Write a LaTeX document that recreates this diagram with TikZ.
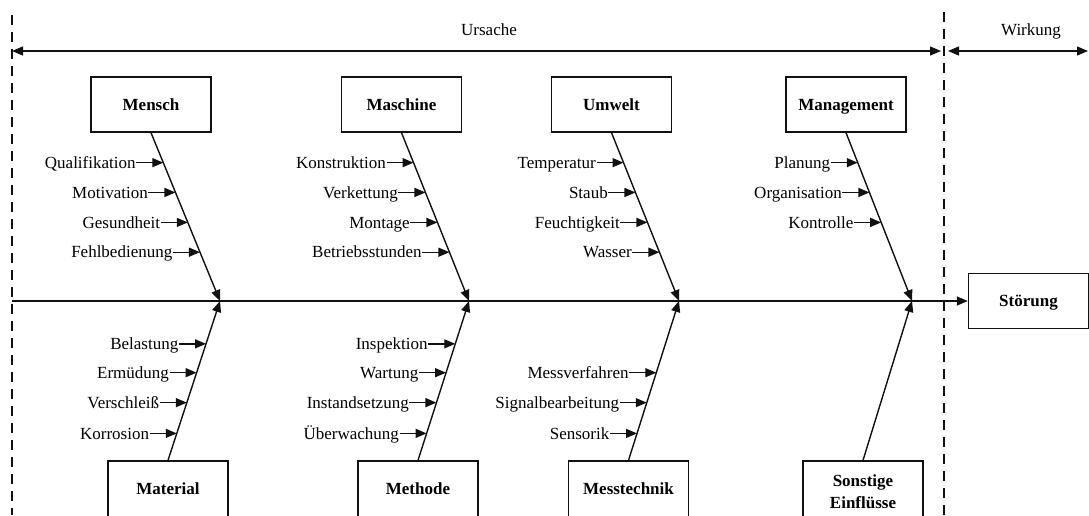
\documentclass[tikz,border=0pt]{standalone}
\usepackage{fontspec}
\setmainfont{Liberation Serif}
\usepackage{tikz}
\usetikzlibrary{positioning,arrows.meta,calc}
\definecolor{ink}{HTML}{111111}
\tikzset{
    category/.style={rectangle, draw=ink, line width=1.4pt, minimum width=120pt, minimum height=55pt, text height=11.5pt, text depth=0pt, align=center, font=\fontsize{17}{22}\selectfont\bfseries},
    lowcategory/.style={category, minimum height=61pt, text depth=5pt},
    cause/.style={inner xsep=0.5pt, inner ysep=0pt, text height=11.5pt, text depth=0pt, font=\fontsize{17}{21}\selectfont},
    arrow/.style={-{Triangle[length=11pt,width=9pt]}, line width=1.4pt, color=ink},
    rangearrow/.style={{Triangle[length=11pt,width=9pt]}-{Triangle[length=11pt,width=9pt]}, line width=1.4pt, color=ink},
    divider/.style={line width=1.3pt, dash pattern=on 10pt off 7pt, color=ink}
}

\begin{document}
\begin{tikzpicture}[x=1pt, y=-1pt]

\useasboundingbox (0,0) rectangle (1089,515);

\coordinate (divleft) at (12,15);
\coordinate (divleftend) at (12,515);
\coordinate (divright) at (944,12);
\coordinate (divrightend) at (944,515);
\draw[divider] (divleft) -- (divleftend);
\draw[divider] (divright) -- (divrightend);

\coordinate (causeleft) at (12,51);
\coordinate (causeright) at (941,51);
\coordinate (effectleft) at (948,51);
\coordinate (effectright) at (1088,51);
\node[cause] (ursache) at (489,30) {Ursache};
\node[cause] (wirkung) at (1031,30) {Wirkung};
\draw[rangearrow] (causeleft) -- (causeright);
\draw[rangearrow] (effectleft) -- (effectright);

\node[category] (stoerung) at (1028.5,301) {Störung};
\coordinate (tail) at (12,301);
\draw[arrow] (tail) -- (stoerung.west);

\node[category] (mensch) at (151,104.5) {Mensch};
\node[category] (maschine) at (401.5,104.5) {Maschine};
\node[category] (umwelt) at (611.5,104.5) {Umwelt};
\node[category] (management) at (846,104.5) {Management};

\node[lowcategory] (material) at (168,491.5) {Material};
\node[lowcategory] (methode) at (418,491.5) {Methode};
\node[lowcategory] (messtechnik) at (628.5,491.5) {Messtechnik};
\node[lowcategory, text height={}, text depth={}] (sonstige) at (863,491.5) {Sonstige\\Einflüsse};

\coordinate (hmensch) at (220,301);
\coordinate (hmaschine) at (469,301);
\coordinate (humwelt) at (679,301);
\coordinate (hmanagement) at (912,301);

\draw[arrow] (mensch.south) -- (hmensch);
\draw[arrow] (maschine.south) -- (hmaschine);
\draw[arrow] (umwelt.south) -- (humwelt);
\draw[arrow] (management.south) -- (hmanagement);
\draw[arrow] (material.north) -- (hmensch);
\draw[arrow] (methode.north) -- (hmaschine);
\draw[arrow] (messtechnik.north) -- (humwelt);
\draw[arrow] (sonstige.north) -- (hmanagement);

\coordinate (mensch1) at ($(mensch.south)!0.178!(hmensch)$);
\coordinate (mensch2) at ($(mensch.south)!0.355!(hmensch)$);
\coordinate (mensch3) at ($(mensch.south)!0.533!(hmensch)$);
\coordinate (mensch4) at ($(mensch.south)!0.710!(hmensch)$);
\node[cause, left=27pt of mensch1] (qualifikation) {Qualifikation};
\node[cause, left=27pt of mensch2] (motivation) {Motivation};
\node[cause, left=27pt of mensch3] (gesundheit) {Gesundheit};
\node[cause, left=27pt of mensch4] (fehlbedienung) {Fehlbedienung};
\draw[arrow] (qualifikation.east) -- (mensch1);
\draw[arrow] (motivation.east) -- (mensch2);
\draw[arrow] (gesundheit.east) -- (mensch3);
\draw[arrow] (fehlbedienung.east) -- (mensch4);

\coordinate (maschine1) at ($(maschine.south)!0.178!(hmaschine)$);
\coordinate (maschine2) at ($(maschine.south)!0.355!(hmaschine)$);
\coordinate (maschine3) at ($(maschine.south)!0.533!(hmaschine)$);
\coordinate (maschine4) at ($(maschine.south)!0.710!(hmaschine)$);
\node[cause, left=27pt of maschine1] (konstruktion) {Konstruktion};
\node[cause, left=27pt of maschine2] (verkettung) {Verkettung};
\node[cause, left=27pt of maschine3] (montage) {Montage};
\node[cause, left=27pt of maschine4] (betriebsstunden) {Betriebsstunden};
\draw[arrow] (konstruktion.east) -- (maschine1);
\draw[arrow] (verkettung.east) -- (maschine2);
\draw[arrow] (montage.east) -- (maschine3);
\draw[arrow] (betriebsstunden.east) -- (maschine4);

\coordinate (umwelt1) at ($(umwelt.south)!0.178!(humwelt)$);
\coordinate (umwelt2) at ($(umwelt.south)!0.355!(humwelt)$);
\coordinate (umwelt3) at ($(umwelt.south)!0.533!(humwelt)$);
\coordinate (umwelt4) at ($(umwelt.south)!0.710!(humwelt)$);
\node[cause, left=27pt of umwelt1] (temperatur) {Temperatur};
\node[cause, left=27pt of umwelt2] (staub) {Staub};
\node[cause, left=27pt of umwelt3] (feuchtigkeit) {Feuchtigkeit};
\node[cause, left=27pt of umwelt4] (wasser) {Wasser};
\draw[arrow] (temperatur.east) -- (umwelt1);
\draw[arrow] (staub.east) -- (umwelt2);
\draw[arrow] (feuchtigkeit.east) -- (umwelt3);
\draw[arrow] (wasser.east) -- (umwelt4);

\coordinate (management1) at ($(management.south)!0.178!(hmanagement)$);
\coordinate (management2) at ($(management.south)!0.355!(hmanagement)$);
\coordinate (management3) at ($(management.south)!0.533!(hmanagement)$);
\node[cause, left=27pt of management1] (planung) {Planung};
\node[cause, left=27pt of management2] (organisation) {Organisation};
\node[cause, left=27pt of management3] (kontrolle) {Kontrolle};
\draw[arrow] (planung.east) -- (management1);
\draw[arrow] (organisation.east) -- (management2);
\draw[arrow] (kontrolle.east) -- (management3);

\coordinate (material1) at ($(material.north)!0.731!(hmensch)$);
\coordinate (material2) at ($(material.north)!0.550!(hmensch)$);
\coordinate (material3) at ($(material.north)!0.362!(hmensch)$);
\coordinate (material4) at ($(material.north)!0.169!(hmensch)$);
\node[cause, left=27pt of material1] (belastung) {Belastung};
\node[cause, left=27pt of material2] (ermuedung) {Ermüdung};
\node[cause, left=27pt of material3] (verschleiss) {Verschleiß};
\node[cause, left=27pt of material4] (korrosion) {Korrosion};
\draw[arrow] (belastung.east) -- (material1);
\draw[arrow] (ermuedung.east) -- (material2);
\draw[arrow] (verschleiss.east) -- (material3);
\draw[arrow] (korrosion.east) -- (material4);

\coordinate (methode1) at ($(methode.north)!0.731!(hmaschine)$);
\coordinate (methode2) at ($(methode.north)!0.550!(hmaschine)$);
\coordinate (methode3) at ($(methode.north)!0.362!(hmaschine)$);
\coordinate (methode4) at ($(methode.north)!0.169!(hmaschine)$);
\node[cause, left=27pt of methode1] (inspektion) {Inspektion};
\node[cause, left=27pt of methode2] (wartung) {Wartung};
\node[cause, left=27pt of methode3] (instandsetzung) {Instandsetzung};
\node[cause, left=27pt of methode4] (ueberwachung) {Überwachung};
\draw[arrow] (inspektion.east) -- (methode1);
\draw[arrow] (wartung.east) -- (methode2);
\draw[arrow] (instandsetzung.east) -- (methode3);
\draw[arrow] (ueberwachung.east) -- (methode4);

\coordinate (messtechnik1) at ($(messtechnik.north)!0.550!(humwelt)$);
\coordinate (messtechnik2) at ($(messtechnik.north)!0.362!(humwelt)$);
\coordinate (messtechnik3) at ($(messtechnik.north)!0.169!(humwelt)$);
\node[cause, left=27pt of messtechnik1] (messverfahren) {Messverfahren};
\node[cause, left=27pt of messtechnik2] (signalbearbeitung) {Signalbearbeitung};
\node[cause, left=27pt of messtechnik3] (sensorik) {Sensorik};
\draw[arrow] (messverfahren.east) -- (messtechnik1);
\draw[arrow] (signalbearbeitung.east) -- (messtechnik2);
\draw[arrow] (sensorik.east) -- (messtechnik3);

\end{tikzpicture}
\end{document}
